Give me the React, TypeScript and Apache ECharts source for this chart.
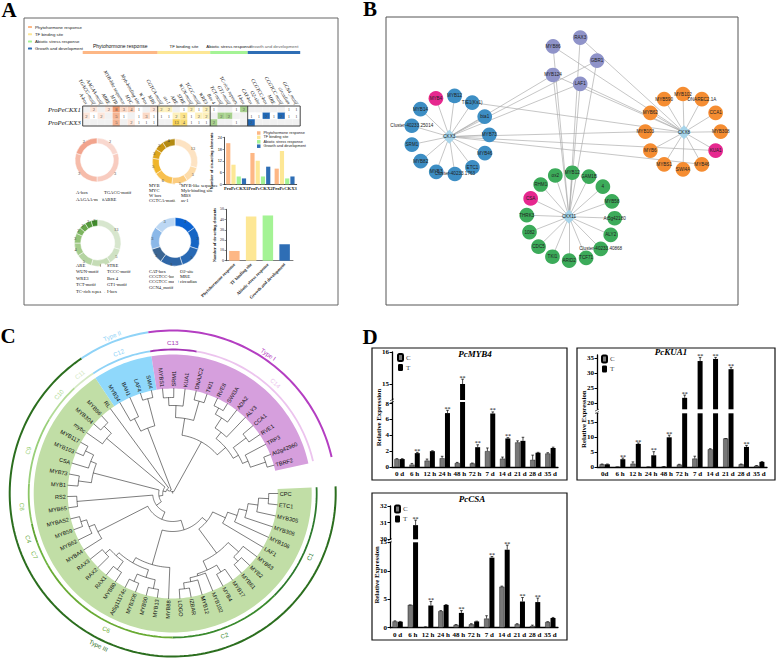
import React, { useEffect, useRef } from "react";
import * as echarts from "echarts";

const SERIF = "Liberation Serif";
const SANS = "Liberation Sans";

// ---------- Panel A data ----------
const groupNames = ["Phytohormone response", "TF binding site", "Abiotic stress response", "Growth and development"];
const groupColors = ["#fdb785", "#fde795", "#a4f395", "#2e6eb5"];
const groupSizes = [10, 7, 5, 7];
const motifs = ["A-box", "TGACG-motif", "AAGAA-motif", "ABRE", "MYB", "MYB-like sequence", "MYC", "Myb-binding site", "W box", "MBS", "CGTCA-motif", "as-1", "ARE", "STRE", "WUN-motif", "TCCC-motif", "WRE3", "Box 4", "TCT-motif", "GT1-motif", "TC-rich repeats", "I-box", "CAT-box", "O2-site", "CCGTCC-box", "MRE", "CCGTCC motif", "circadian", "GCN4_motif"];
const promoters = ["ProPeCKX1", "ProPeCKX2", "ProPeCKX3"];
const heatRow1 = [0, 2, 0, 2, 8, 3, 4, 1, 0, 2, 2, 2, 0, 1, 2, 1, 2, 1, 0, 0, 1, 2, 0, 0, 0, 0, 0, 1, 1];
const heatRow2 = [2, 1, 2, 0, 5, 1, 0, 1, 3, 1, 1, 1, 2, 3, 1, 2, 2, 0, 2, 2, 0, 0, 1, 1, 2, 1, 2, 1, 1];
const heatRow3 = [0, 0, 0, 0, 5, 0, 2, 1, 1, 1, 0, 0, 13, 4, 1, 1, 1, 2, 0, 0, 1, 0, 2, 0, 0, 0, 0, 0, 0];
const heatRows = [heatRow1, heatRow2, heatRow3];

const barPhyto = [21, 16, 8];
const barTF = [10, 12, 17];
const barAbiotic = [4, 4, 3];
const barGrowth = [3, 9, 4];
const totals = [9.5, 43, 44, 16];

const donut1Names = ["A-box", "TGACG-motif", "AAGAA-motif", "ABRE"];
const donut1Values = [2, 3, 3, 2];
const donut1Colors = ["#f9d8cf", "#f8ccc0", "#f6bcaa", "#f2a48d"];
const donut2Names = ["MYB", "MYB-like sequence", "MYC", "Myb-binding site", "W box", "MBS", "CGTCA-motif", "as-1"];
const donut2Values = [13, 5, 5, 6, 5, 3, 3, 4];
const donut2Colors = ["#fde3c3", "#fddcaa", "#fbcc80", "#f8c050", "#f0b52b", "#deA51b", "#c99512", "#b38a12"];
const donut3Names = ["ARE", "STRE", "WUN-motif", "TCCC-motif", "WRE3", "Box 4", "TCT-motif", "GT1-motif", "TC-rich repeats", "I-box"];
const donut3Values = [13, 5, 6, 5, 4, 3, 2, 2, 2, 2];
const donut3Colors = ["#d7e6ce", "#cfe2c4", "#c5dcb6", "#b5d4a2", "#a5cc8c", "#94c278", "#7db560", "#68a64a", "#54983a", "#3f8a2a"];
const donut4Names = ["CAT-box", "O2-site", "CCGTCC-box", "MRE", "CCGTCC motif", "circadian", "GCN4_motif"];
const donut4Values = [3, 3, 3, 3, 2, 3, 3];
const donut4Colors = ["#0b63d2", "#1565c4", "#2869b4", "#2f66a6", "#3b6592", "#8bb8e8", "#bcd7f3"];

// ---------- Panel B data ----------
const leftRing = ["MYB4", "MYB12", "TIE1(Ks1)", "bta1", "MYB73", "MYB46", "ETC1", "Cluster-40233.1763", "MYB3", "MYB82", "SRM1", "Cluster-40233.25014", "MYB14"];
const rightRing = ["MYB102", "DNAREC2.1A", "CCA1", "MYB308", "KUA1", "MYB46", "SWI4A", "MYBS1", "MYB6", "MYB103", "MYB62", "MYB590"];
const bottomRing = ["MYB12", "GAM1B", "4", "MYB58", "At5g42180", "ALY2", "Cluster-40233.40868", "TCF71", "ARID2", "TKI1", "CDC5", "1082", "THRK3", "CSA", "RHM1", "ox2"];
const topRing = ["RAX3", "GBR1", "LAF1", "MYB124", "MYB86"];
const pinkNodes = ["MYB4", "KUA1", "CSA"];
const hubNames = ["CKX3", "CKX8", "CKX11"];
const crossLinks = [
  ["T-RAX3", "H-CKX8"], ["T-RAX3", "H-CKX11"], ["T-GBR1", "H-CKX3"], ["T-GBR1", "H-CKX11"],
  ["T-LAF1", "H-CKX3"], ["T-LAF1", "H-CKX8"], ["T-LAF1", "H-CKX11"], ["T-MYB124", "H-CKX3"],
  ["T-MYB124", "H-CKX8"], ["T-MYB124", "H-CKX11"], ["T-MYB86", "H-CKX8"], ["T-MYB86", "H-CKX11"],
  ["H-CKX3", "R-MYB103"], ["H-CKX3", "R-KUA1"], ["H-CKX8", "L-TIE1(Ks1)"], ["H-CKX3", "R-MYB46"],
];

// ---------- Panel C data ----------
type TreeNode = string | [number, ...any[]];
const cladeT: TreeNode = [58, [68, [76, [86, [96, "CPC", "ETC1"], "MYB305"], "MYB308"], "MYB106"], "LAF1"];
const cladeW: TreeNode = [74, [88, "MYB63", [94, "MYB2", "MYB61"]], [84, [92, "MYB17", "MYB4"], [86, "MYB102", [90, "MYB12", [96, "IZBAR", "LOGO"]]]]];
const cladeV: TreeNode = [74, "MYB88", [80, [88, [97, "MYB13", "MYB50"], [96, "MYB306", "At5g11174c"]], [84, [94, "MYB80", "RAX1"], [90, "RAX2", "RAX3"]]]];
const cladeU4: TreeNode = [84, "MYBA4", [90, "MYB62", [96, "MYB59", "MYBAS2"]]];
const cladeU3: TreeNode = [96, "MYB65", "RS2"];
const cladeU2: TreeNode = [82, [95, "MYB1", "MYB73"], [88, "CSA", [97, "MYB103", "MYB117"]]];
const cladeU1: TreeNode = [86, "mybc", [96, "MYB304", "MYB86"]];
const cladeB: TreeNode = [70, [84, "MYB34", "BAH1"], [98, "LAF4", "SWI4"]];
const cladeP: TreeNode = [59,
  [76, [88, [96, "MYBS1", "SRM1"], "KUA1"], [96, "DNAJC2", "TKI1"]],
  [70, [78, [90, [97, "RVE8", "SWI3A"], "ADA2"], "ALY3"], [76, [92, "CCA1", "RVE1"], [82, "TRP3", [98, "At2g42960", "TBRF2"]]]],
];
const phyloTree: TreeNode = [2, [4, [7, [10, [14, [20, [28, [38, [44, cladeT, cladeW], cladeV], cladeU4], cladeU3], cladeU2], cladeU1], "RL"], cladeB], cladeP];

const sectorEdges = [2.5, -236.2, -261.2, -347.5];
const sectorColors = ["#c1dea6", "#8fd8fb", "#d69fdd"];
const cladeNames = ["C1", "C2", "C6", "C7", "C4", "C8", "C9", "C10", "C11", "C12", "C13", "C14"];
const cladeEdges = [2.5, -45, -90, -150, -160, -168, -184, -211, -227, -236.5, -261, -279.6, -347];
const cladeLabelAngles = [-24.7, -70, -116, -156, -162.5, -175, -196.5, -221, -232, -249, -270, -313];
const cladeColors = ["#2d7a2d", "#3a8a2e", "#69ab34", "#6db33f", "#5ea432", "#8cc665", "#99cf7a", "#b3db97", "#d4e8c4", "#8fd3f7", "#a534b5", "#ecc4ee"];
const typeNames = ["Type III", "Type II", "Type I"];
const typeEdges = [2.5, -236, -261.4, -347.1];
const typeLabelAngles = [-116, 111, 55.5];
const typeColors = ["#2b6e1e", "#8fd3f7", "#b43ec2"];

// ---------- Panel D data ----------
const timePoints = ["0 d", "6 h", "12 h", "24 h", "48 h", "72 h", "7 d", "14 d", "21 d", "28 d", "35 d"];
const timePointsKua = ["0d", "6 h", "12 h", "24 h", "48 h", "72 h", "7 d", "14 d", "21 d", "28 d", "35 d"];
const myb4C = [1.0, 0.3, 0.8, 1.1, 0.5, 0.45, 2.0, 1.05, 3.1, 0.9, 1.7];
const myb4T = [1.0, 1.75, 2.0, 6.8, 15.0, 2.5, 6.75, 3.6, 3.3, 1.8, 2.4];
const myb4CErr = [0.05, 0.15, 0.2, 0.25, 0.08, 0.05, 0.4, 0.2, 0.2, 0.6, 0.1];
const myb4TErr = [0.05, 0.1, 0.05, 0.35, 0.15, 0.3, 0.2, 0.1, 0.45, 0.05, 0.1];
const myb4Stars = [0, 1, 0, 1, 1, 1, 1, 1, 0, 0, 0];
const kuaC = [1.0, 0.1, 1.2, 0.1, 0.2, 0.9, 2.9, 6.0, 9.6, 1.0, 0.5];
const kuaT = [1.0, 2.7, 7.8, 4.0, 10.0, 21.8, 34.0, 34.7, 31.3, 6.8, 1.8];
const kuaCErr = [0.1, 0, 0.6, 0, 0.05, 0.1, 0.8, 0.2, 0, 0.1, 0.1];
const kuaTErr = [0.1, 0.4, 0.3, 1.2, 0.7, 0.9, 1.2, 0.5, 0.6, 0.5, 0.1];
const kuaStars = [0, 1, 1, 1, 1, 1, 1, 1, 1, 1, 0];
const csaC = [1.1, 4.0, 0.1, 2.9, 0.5, 0.6, 1.6, 7.2, 0.6, 0.3, 1.0];
const csaT = [1.05, 30.85, 3.9, 4.0, 2.6, 1.1, 12.3, 13.7, 4.6, 4.5, 1.7];
const csaCErr = [0.1, 0, 0.05, 0.1, 0.05, 0.1, 0.5, 0.1, 0.1, 0.15, 0.05];
const csaTErr = [0.05, 0.3, 0.7, 0.05, 0.4, 0.05, 0.2, 0.8, 0.7, 0.7, 0.1];
const csaStars = [0, 1, 1, 0, 1, 0, 1, 1, 1, 1, 0];

// ---------- Option building ----------
const grids: any[] = [];
const xAxes: any[] = [];
const yAxes: any[] = [];
const series: any[] = [];
const legends: any[] = [];
const graphics: any[] = [];
const visualMaps: any[] = [];

function addCartesian(grid: any, xAxis: any, yAxis: any) {
  grids.push({ containLabel: false, ...grid });
  xAxes.push({ gridIndex: grids.length - 1, ...xAxis });
  yAxes.push({ gridIndex: grids.length - 1, ...yAxis });
  return grids.length - 1;
}
function txt(text: string, x: number, y: number, fontSize: number, extra: any = {}, rotation = 0) {
  graphics.push({
    type: "text", x, y, rotation, silent: true,
    style: { text, fontSize, fontFamily: SERIF, fill: "#000", align: "center", verticalAlign: "middle", ...extra },
  });
}
function frame(x: number, y: number, w: number, h: number, stroke: string, lineWidth: number) {
  graphics.push({ type: "rect", x, y, shape: { x: 0, y: 0, width: w, height: h }, silent: true, style: { fill: "none", stroke, lineWidth } });
}

// Panel letters and frames
txt("A", 9, 10, 21, { fontWeight: "bold" });
txt("B", 370, 9, 21, { fontWeight: "bold" });
txt("C", 8, 336, 21, { fontWeight: "bold" });
txt("D", 370, 337, 21, { fontWeight: "bold" });
frame(24, 18, 314, 287, "#666", 1);
frame(386, 17, 352, 288, "#555", 1);
frame(372, 348, 195, 132, "#111", 1.2);
frame(577, 348, 198, 132, "#111", 1.2);
frame(372, 493, 195, 147, "#111", 1.2);

// ---- A: top band
const cellW = 7.5;
const heatLeft = 82.7;
const heatTop = 106;
const heatW = cellW * 29;
const heatH = 20;
{
  const g = addCartesian(
    { left: heatLeft, top: 51, width: heatW, height: 3 },
    { type: "value", min: 0, max: 29, show: false },
    { type: "category", data: ["band"], show: false }
  );
  groupNames.forEach((name, i) => {
    series.push({ type: "bar", name, stack: "band", xAxisIndex: g, yAxisIndex: g, barWidth: 3, itemStyle: { color: groupColors[i] }, data: [groupSizes[i]], silent: true });
  });
  let acc = 0;
  groupNames.forEach((name, i) => {
    const c = heatLeft + (acc + groupSizes[i] / 2) * cellW;
    acc += groupSizes[i];
    txt(name, c, 46, i < 1 ? 5 : 4.4, { fontFamily: SANS, fill: i === 3 ? "#666" : "#111" });
  });
  legends.push({
    left: 28, top: 25, orient: "vertical", itemWidth: 4, itemHeight: 2, itemGap: 3.2, selectedMode: false, padding: 0,
    data: groupNames, textStyle: { fontSize: 4.3, fontFamily: SANS, color: "#222", padding: [0, 0, 0, -2] },
  });
}

// ---- A: heat map
const heatPalettes = [
  ["#f1f1f1", "#ffffff", "#fde6da", "#fbd9c6", "#f9cfb8", "#f5b391", "#f3a880", "#f2a078", "#f09a70"],
  ["#f1f1f1", "#ffffff", "#fdf0bb", "#fbe48a", "#f9dc73", "#f6d050"],
  ["#f1f1f1", "#ffffff", "#a6d08c"],
  ["#f1f1f1", "#ffffff", "#1f67b5"],
];
function groupOf(col: number) {
  let acc = 0;
  for (let i = 0; i < groupSizes.length; i++) {
    acc += groupSizes[i];
    if (col < acc) return i;
  }
  return groupSizes.length - 1;
}
// dimension 3 of a cell says which palette entry paints it
const colorCode = (col: number, v: number) => {
  const g = groupOf(col);
  return g * 100 + Math.min(v, heatPalettes[g].length - 1);
};
{
  const g = addCartesian(
    { left: heatLeft, top: heatTop, width: heatW, height: heatH },
    {
      type: "category", data: motifs, position: "top", axisLine: { show: false }, axisTick: { show: false }, splitArea: { show: false },
      axisLabel: { interval: 0, rotate: 60, margin: 2, fontSize: 5, fontFamily: SERIF, fontStyle: "italic", color: "#111" },
    },
    {
      type: "category", data: promoters, inverse: true, axisLine: { show: false }, axisTick: { show: false }, splitArea: { show: false },
      axisLabel: { margin: 2, fontSize: 6.6, fontFamily: SERIF, fontStyle: "italic", color: "#111" },
    }
  );
  const data: any[] = [];
  heatRows.forEach((row, r) => row.forEach((v, c) => data.push([c, r, v, colorCode(c, v)])));
  visualMaps.push({
    type: "piecewise", show: false, dimension: 3, seriesIndex: series.length,
    pieces: heatPalettes.flatMap((p, gi) => p.map((color, v) => ({ value: gi * 100 + v, color }))),
  });
  series.push({
    type: "heatmap", xAxisIndex: g, yAxisIndex: g, data, silent: true,
    itemStyle: { borderColor: "#fff", borderWidth: 0.3 },
    label: { show: true, fontSize: 4.6, color: "#555", fontFamily: SERIF, formatter: (p: any) => (p.value[2] ? String(p.value[2]) : "") },
  });
  graphics.push({ type: "rect", x: heatLeft, y: heatTop, z: 20, silent: true, shape: { x: 0, y: 0, width: heatW, height: heatH }, style: { fill: "none", stroke: "#444", lineWidth: 1 } });
  let acc = 0;
  groupSizes.slice(0, 3).forEach((s) => {
    acc += s;
    const x = heatLeft + acc * cellW;
    graphics.push({ type: "line", z: 20, silent: true, shape: { x1: x, y1: heatTop, x2: x, y2: heatTop + heatH }, style: { stroke: "#333", lineWidth: 0.9 } });
  });
}

// ---- A: donuts
function addDonut(names: string[], values: number[], colors: string[], center: number[], radius: number[], legendX: number[], legendTop: number, gap: number) {
  series.push({
    type: "pie", center, radius, startAngle: 90, clockwise: true, silent: true,
    itemStyle: { borderColor: "#fff", borderWidth: 0.5 },
    label: { show: true, position: "inside", formatter: "{c}", fontSize: 4.4, color: "#444", fontFamily: SERIF },
    labelLine: { show: false },
    data: names.map((name, i) => ({ name, value: values[i], itemStyle: { color: colors[i] } })),
  });
  const col = (off: number) => names.filter((_, i) => i % 2 === off);
  [0, 1].forEach((off) => {
    legends.push({
      left: legendX[off], top: legendTop, orient: "vertical", itemWidth: 2, itemHeight: 2, itemGap: gap, selectedMode: false, padding: 0,
      icon: "rect", data: col(off), textStyle: { fontSize: 4.6, fontFamily: SERIF, color: "#111", padding: [0, 0, 0, -2] },
    });
  });
}
addDonut(donut1Names, donut1Values, donut1Colors, [97, 160], [16.5, 22], [70, 98], 190, 2.4);
addDonut(donut2Names, donut2Values, donut2Colors, [175, 161.5], [16, 22.7], [143, 175], 182.5, 0);
addDonut(donut3Names, donut3Values, donut3Colors, [97.7, 243], [17, 23.3], [70, 101], 263, 1.4);
addDonut(donut4Names, donut4Values, donut4Colors, [175, 241.7], [15.7, 24.3], [143, 174], 268.5, 0.4);

// ---- A: bar charts
{
  const g = addCartesian(
    { left: 224, top: 137.3, width: 72.7, height: 47 },
    {
      type: "category", data: promoters, axisLine: { lineStyle: { color: "#222", width: 0.8 } }, axisTick: { length: 1.5, alignWithLabel: true, lineStyle: { color: "#222", width: 0.5 } },
      axisLabel: { interval: 0, margin: 2, fontSize: 4.6, fontWeight: "bold", fontFamily: SERIF, color: "#222" },
    },
    {
      type: "value", min: 0, max: 24, interval: 6, splitLine: { show: false }, name: "Number of cis-acting elements", nameLocation: "middle", nameGap: 9,
      nameTextStyle: { fontSize: 3.9, fontFamily: SANS, fontWeight: "bold", color: "#222" },
      axisLine: { show: true, lineStyle: { color: "#222", width: 0.8 } }, axisTick: { show: true, length: 1.5, lineStyle: { color: "#222", width: 0.5 } },
      axisLabel: { margin: 2, fontSize: 3.9, fontFamily: SANS, color: "#222" },
    }
  );
  [barPhyto, barTF, barAbiotic, barGrowth].forEach((data, i) => {
    series.push({ type: "bar", name: groupNames[i], xAxisIndex: g, yAxisIndex: g, barWidth: 4.2, barGap: "25%", data, itemStyle: { color: groupColors[i] }, silent: true });
  });
  legends.push({
    left: 257, top: 131, orient: "vertical", itemWidth: 3.5, itemHeight: 3.5, itemGap: 0.4, selectedMode: false, padding: 0, icon: "rect",
    data: groupNames, textStyle: { fontSize: 3.8, fontFamily: SANS, color: "#222", padding: [0, 0, 0, -2] },
  });
}
{
  const g = addCartesian(
    { left: 226, top: 209.3, width: 67, height: 51.4 },
    {
      type: "category", data: groupNames, axisLine: { lineStyle: { color: "#444", width: 0.7 } }, axisTick: { length: 1.5, alignWithLabel: true, lineStyle: { color: "#444", width: 0.5 } },
      axisLabel: { interval: 0, rotate: 45, margin: 3, fontSize: 4.5, fontFamily: SERIF, fontWeight: "bold", color: "#222" },
    },
    {
      type: "value", min: 0, max: 50, interval: 10, splitLine: { show: false }, name: "Number of cis-acting elements", nameLocation: "middle", nameGap: 9,
      nameTextStyle: { fontSize: 4.2, fontFamily: SERIF, fontWeight: "bold", color: "#111" },
      axisLine: { show: true, lineStyle: { color: "#222", width: 0.8 } }, axisTick: { show: true, length: 1.5, lineStyle: { color: "#222", width: 0.5 } },
      axisLabel: { margin: 2, fontSize: 3.9, fontFamily: SERIF, color: "#222" },
    }
  );
  series.push({
    type: "bar", xAxisIndex: g, yAxisIndex: g, barWidth: 10.5, silent: true,
    data: totals.map((v, i) => ({ value: v, itemStyle: { color: groupColors[i] } })),
  });
}

// ---- B: network, drawn from circular layouts
const nodeStyle = (color: string) => ({ color, borderWidth: 0 });
const nodes: any[] = [];
const links: any[] = [];
function addRing(prefix: string, names: string[], cx: number, cy: number, r: number, startDeg: number, color: string) {
  const ids: string[] = [];
  names.forEach((name, i) => {
    const a = ((startDeg + (360 * i) / names.length) * Math.PI) / 180;
    const id = `${prefix}-${name}`;
    ids.push(id);
    nodes.push({
      id, name, value: [cx + r * Math.sin(a), cy - r * Math.cos(a)], symbol: "circle", symbolSize: 14.7,
      itemStyle: nodeStyle(prefix !== "T" && pinkNodes.includes(name) ? "#e6288f" : color),
    });
  });
  return ids;
}
const hubPos = [[449.3, 136.7], [684, 132.3], [569, 216.7]];
hubNames.forEach((name, i) => {
  nodes.push({ id: `H-${name}`, name, value: hubPos[i], symbol: "diamond", symbolSize: 14, itemStyle: nodeStyle("#a6d4ea") });
});
const leftIds = addRing("L", leftRing, 450, 135, 39.3, -21, "#3d8ec4");
const rightIds = addRing("R", rightRing, 683, 131.7, 37.7, 0, "#f58d32");
const bottomIds = addRing("G", bottomRing, 570.7, 216.7, 44, 2, "#3cab5a");
addRing("T", topRing, 572.7, 60.7, 24.3, 18, "#8f93c9");
[leftIds, rightIds, bottomIds].forEach((ids, i) => ids.forEach((id) => links.push({ source: `H-${hubNames[i]}`, target: id })));
crossLinks.forEach(([source, target]) => links.push({ source, target }));
{
  const idIndex = new Map(nodes.map((n, i) => [n.id, i]));
  const g = addCartesian(
    { left: 386, top: 17, width: 352, height: 288 },
    { type: "value", min: 386, max: 738, show: false },
    { type: "value", min: 17, max: 305, inverse: true, show: false }
  );
  series.push({
    type: "graph", coordinateSystem: "cartesian2d", xAxisIndex: g, yAxisIndex: g, silent: true, roam: false,
    data: nodes,
    links: links.map((l) => ({ source: idIndex.get(l.source), target: idIndex.get(l.target) })),
    lineStyle: { color: "#adadad", width: 0.7, opacity: 1, curveness: 0 },
    label: { show: true, position: "inside", fontSize: 4.6, fontFamily: SANS, color: "#222", formatter: "{b}" },
    labelLayout: { hideOverlap: false },
  });
}

// ---- C: circular tree, computed from the nested clades on a polar system
const polarLines: number[][][] = [];
const polarLeaves: { name: string; a: number }[] = [];
const LEAF_STEP = 6.15;
const LEAF_R = 105.5;
let leafCounter = 0;
function walk(n: TreeNode): { r: number; a: number } {
  if (typeof n === "string") {
    const a = -LEAF_STEP * leafCounter++;
    polarLeaves.push({ name: n, a });
    return { r: LEAF_R, a };
  }
  const [r, ...kids] = n as any[];
  const res = kids.map((k) => walk(k));
  const a0 = res[0].a;
  const a1 = res[res.length - 1].a;
  const arc: number[][] = [];
  const steps = Math.max(2, Math.ceil(Math.abs(a1 - a0) / 1.5));
  for (let i = 0; i <= steps; i++) arc.push([r, a0 + ((a1 - a0) * i) / steps]);
  polarLines.push(arc);
  res.forEach((k) => polarLines.push([[r, k.a], [k.r, k.a]]));
  return { r, a: (a0 + a1) / 2 };
}
const rootLayout = walk(phyloTree);
polarLines.push([[0, rootLayout.a], [rootLayout.r, rootLayout.a]]);

const norm = (a: number) => ((a % 360) + 360) % 360;
const pCoord = (api: any, r: number, a: number) => api.coord([r, norm(a)]);
function arcPts(r: number, a0: number, a1: number) {
  const pts: number[][] = [];
  const steps = Math.max(2, Math.ceil(Math.abs(a1 - a0) / 1.5));
  for (let i = 0; i <= steps; i++) pts.push([r, a0 + ((a1 - a0) * i) / steps]);
  return pts;
}
const polarSeries = (name: string, count: number, renderItem: any, z: number) => ({
  type: "custom", name, coordinateSystem: "polar", silent: true, z, clip: false,
  data: Array.from({ length: count }, () => [1, 1]),
  renderItem,
});
series.push(polarSeries("sectors", sectorColors.length, (p: any, api: any) => {
  const i = p.dataIndex;
  const pts = [...arcPts(139, sectorEdges[i], sectorEdges[i + 1]), ...arcPts(105, sectorEdges[i + 1], sectorEdges[i])];
  return { type: "polygon", shape: { points: pts.map(([r, a]) => pCoord(api, r, a)) }, style: { fill: sectorColors[i] } };
}, 1));
series.push(polarSeries("tree", polarLines.length, (p: any, api: any) => ({
  type: "polyline",
  shape: { points: polarLines[p.dataIndex].map(([r, a]) => pCoord(api, r, a)) },
  style: { fill: "none", stroke: "#111", lineWidth: 0.55 },
}), 2));
function polarText(api: any, text: string, r: number, a: number, rotDeg: number, style: any) {
  const [x, y] = pCoord(api, r, a);
  return { type: "text", x, y, rotation: (rotDeg * Math.PI) / 180, style: { text, verticalAlign: "middle", fontFamily: SANS, ...style } };
}
series.push(polarSeries("leaves", polarLeaves.length, (p: any, api: any) => {
  const { name, a } = polarLeaves[p.dataIndex];
  const right = Math.cos((a * Math.PI) / 180) > 0;
  return polarText(api, name, 107, a, right ? a : a - 180, { align: right ? "left" : "right", fontSize: 5.6, fill: "#111" });
}, 3));
const tangent = (a: number) => {
  const n = norm(a);
  return n > 180 ? n + 90 : n - 90;
};
series.push(polarSeries("clades", cladeNames.length, (p: any, api: any) => {
  const i = p.dataIndex;
  return {
    type: "group",
    children: [
      { type: "polyline", shape: { points: arcPts(144, cladeEdges[i], cladeEdges[i + 1]).map(([r, a]) => pCoord(api, r, a)) }, style: { fill: "none", stroke: cladeColors[i], lineWidth: 1.8 } },
      polarText(api, cladeNames[i], 151, cladeLabelAngles[i], tangent(cladeLabelAngles[i]), { align: "center", fontSize: 6.2, fill: cladeColors[i] }),
    ],
  };
}, 3));
series.push(polarSeries("types", typeNames.length, (p: any, api: any) => {
  const i = p.dataIndex;
  return {
    type: "group",
    children: [
      { type: "polyline", shape: { points: arcPts(163, typeEdges[i], typeEdges[i + 1]).map(([r, a]) => pCoord(api, r, a)) }, style: { fill: "none", stroke: typeColors[i], lineWidth: 2 } },
      polarText(api, typeNames[i], 169, typeLabelAngles[i], tangent(typeLabelAngles[i]), { align: "center", fontSize: 6.2, fill: typeColors[i] }),
    ],
  };
}, 3));

// ---- D: broken-axis panels
function errorSeries(g: number, rows: number[][]) {
  return {
    type: "custom", xAxisIndex: g, yAxisIndex: g, silent: true, z: 5, clip: false,
    encode: { x: 0, y: 1 }, data: rows,
    renderItem: (_: any, api: any) => {
      const x = api.value(0), v = api.value(1), e = api.value(2), side = api.value(3), star = api.value(4);
      const base = api.coord([x, v]);
      const top = api.coord([x, v + e]);
      const bx = base[0] + side * 2.7;
      const stroke = { stroke: "#000", lineWidth: 0.7 };
      const children: any[] = [
        { type: "line", shape: { x1: bx, y1: base[1], x2: bx, y2: top[1] }, style: stroke },
        { type: "line", shape: { x1: bx - 1.3, y1: top[1], x2: bx + 1.3, y2: top[1] }, style: stroke },
      ];
      if (star) {
        children.push({ type: "text", x: bx, y: top[1] - 1.5, style: { text: "**", fontSize: 6, fontFamily: SERIF, fill: "#000", align: "center", verticalAlign: "middle" } });
      }
      return { type: "group", children };
    },
  };
}
function addBroken(cfg: any) {
  const w = cfg.right - cfg.left;
  const axisLine = { lineStyle: { color: "#000", width: 1.3 } };
  const tick = { show: true, length: 2.5, lineStyle: { color: "#000", width: 1 } };
  const yLabel = { margin: 3, fontSize: 7, fontFamily: SERIF, fontWeight: "bold", color: "#000" };
  const lower = addCartesian(
    { left: cfg.left, top: cfg.lowerTop, width: w, height: cfg.y0 - cfg.lowerTop },
    {
      type: "category", data: cfg.cats, axisLine, axisTick: { length: 2.5, alignWithLabel: true, lineStyle: { color: "#000", width: 1 } },
      axisLabel: { interval: 0, margin: 3.5, fontSize: 7, fontFamily: SERIF, fontWeight: "bold", color: "#000" },
    },
    {
      type: "value", min: 0, max: cfg.lowerMax, splitLine: { show: false }, axisLine: { show: true, ...axisLine },
      axisTick: { ...tick, customValues: cfg.lowerTicks }, axisLabel: { ...yLabel, customValues: cfg.lowerTicks },
    }
  );
  const upper = addCartesian(
    { left: cfg.left, top: cfg.upperTop, width: w, height: cfg.upperBottom - cfg.upperTop },
    { type: "category", data: cfg.cats, show: false },
    {
      type: "value", min: cfg.upperMin, max: cfg.upperMax, splitLine: { show: false }, axisLine: { show: true, ...axisLine },
      axisTick: { ...tick, customValues: cfg.upperTicks }, axisLabel: { ...yLabel, customValues: cfg.upperTicks },
    }
  );
  const itemC = { color: "#777", borderColor: "#000", borderWidth: 0.4 };
  const itemT = { color: "#000" };
  const bar = { type: "bar", barWidth: 5, barGap: "6%", silent: true };
  const high = (v: number) => (v >= cfg.upperMin ? v : "-");
  series.push({ ...bar, name: "C", xAxisIndex: lower, yAxisIndex: lower, data: cfg.c, itemStyle: itemC });
  series.push({ ...bar, name: "T", xAxisIndex: lower, yAxisIndex: lower, data: cfg.t, itemStyle: itemT });
  series.push({ ...bar, name: "C", xAxisIndex: upper, yAxisIndex: upper, data: cfg.c.map(high), itemStyle: itemC });
  series.push({ ...bar, name: "T", xAxisIndex: upper, yAxisIndex: upper, data: cfg.t.map(high), itemStyle: itemT });
  const rows: number[][] = [];
  cfg.c.forEach((v: number, i: number) => rows.push([i, v, cfg.ce[i], -1, 0]));
  cfg.t.forEach((v: number, i: number) => rows.push([i, v, cfg.te[i], 1, cfg.stars[i]]));
  series.push(errorSeries(lower, rows.filter((r) => r[1] < cfg.upperMin)));
  series.push(errorSeries(upper, rows.filter((r) => r[1] >= cfg.upperMin)));
  legends.push({
    left: cfg.legendX, top: cfg.legendY, orient: "vertical", itemWidth: 5, itemHeight: 7, itemGap: 2, selectedMode: false, padding: 0,
    data: ["C", "T"], textStyle: { fontSize: 7, fontFamily: SERIF, color: "#444", padding: [0, 0, 0, -2] },
  });
  txt(cfg.title, cfg.titleX, cfg.titleY, 9, { fontStyle: "italic", fontWeight: "bold" });
  txt("Relative Expression", cfg.left - 14, (cfg.upperTop + cfg.y0) / 2 + 8, 6.8, { fontWeight: "bold" }, Math.PI / 2);
  const by = (cfg.lowerTop + cfg.upperBottom) / 2;
  [-1.2, 1.2].forEach((d) => {
    graphics.push({ type: "line", z: 10, silent: true, shape: { x1: cfg.left - 2, y1: by + d + 1, x2: cfg.left + 2, y2: by + d - 1 }, style: { stroke: "#000", lineWidth: 0.6 } });
  });
}
addBroken({
  title: "PcMYB4", titleX: 475, titleY: 354, cats: timePoints, c: myb4C, t: myb4T, ce: myb4CErr, te: myb4TErr, stars: myb4Stars,
  left: 392, right: 558, y0: 467, lowerTop: 402, lowerMax: 8.2, lowerTicks: [0, 2, 4, 6, 8],
  upperTop: 352, upperBottom: 400, upperMin: 14.5, upperMax: 16, upperTicks: [15, 16], legendX: 397, legendY: 353,
});
addBroken({
  title: "PcKUA1", titleX: 671, titleY: 352, cats: timePointsKua, c: kuaC, t: kuaT, ce: kuaCErr, te: kuaTErr, stars: kuaStars,
  left: 597, right: 767, y0: 467.3, lowerTop: 413.3, lowerMax: 18, lowerTicks: [0, 5, 10, 15],
  upperTop: 355, upperBottom: 409.3, upperMin: 18, upperMax: 36, upperTicks: [20, 25, 30, 35], legendX: 601, legendY: 354.5,
});
addBroken({
  title: "PcCSA", titleX: 472, titleY: 499, cats: timePoints, c: csaC, t: csaT, ce: csaCErr, te: csaTErr, stars: csaStars,
  left: 390, right: 558, y0: 627.7, lowerTop: 542.3, lowerMax: 15, lowerTicks: [0, 5, 10, 15],
  upperTop: 506, upperBottom: 539.3, upperMin: 30, upperMax: 32, upperTicks: [30, 31, 32], legendX: 394, legendY: 504.5,
});

const option: any = {
  animation: false,
  backgroundColor: "#fff",
  grid: grids,
  xAxis: xAxes,
  yAxis: yAxes,
  polar: { center: [172.7, 493.5], radius: 180 },
  radiusAxis: { min: 0, max: 180, show: false },
  angleAxis: { min: 0, max: 360, startAngle: 0, clockwise: false, show: false },
  legend: legends,
  visualMap: visualMaps,
  series,
  graphic: { elements: graphics },
};

export default function App() {
  const ref = useRef<HTMLDivElement>(null);
  useEffect(() => {
    const chart = echarts.init(ref.current as HTMLDivElement, null, { renderer: "svg" });
    chart.setOption(option);
    return () => chart.dispose();
  }, []);
  return <div ref={ref} style={{ position: "absolute", left: 0, top: 0, width: 778, height: 660 }} />;
}
